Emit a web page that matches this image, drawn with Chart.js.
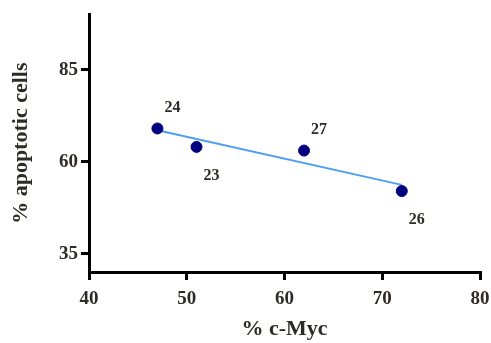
<!DOCTYPE html>
<html lang="en">
<head>
<meta charset="UTF-8">
<title>% apoptotic cells vs % c-Myc</title>
<script src="https://cdn.jsdelivr.net/npm/chart.js"></script>
<style>
    html, body { margin: 0; padding: 0; background: #fff; }
    #wrap { width: 491px; height: 343px; }
</style>
</head>
<body>
<div id="wrap"><canvas id="chart" width="491" height="343"></canvas></div>
<script>
    // values
    const cMyc = [47, 51, 62, 72];
    const apoptotic = [69, 64, 63, 52];
    const pointLabels = ['24', '23', '27', '26'];
    const labelSide = ['above', 'below', 'above', 'below'];
    const yTicks = [35, 60, 85];

    // least squares line through the points
    const n = cMyc.length;
    const mx = cMyc.reduce((a, b) => a + b, 0) / n;
    const my = apoptotic.reduce((a, b) => a + b, 0) / n;
    let sxy = 0, sxx = 0;
    for (let i = 0; i < n; i++) {
        sxy += (cMyc[i] - mx) * (apoptotic[i] - my);
        sxx += (cMyc[i] - mx) * (cMyc[i] - mx);
    }
    const slope = sxy / sxx;
    const xMin = Math.min(...cMyc), xMax = Math.max(...cMyc);
    const fitLine = [
        { x: xMin, y: my + slope * (xMin - mx) },
        { x: xMax, y: my + slope * (xMax - mx) }
    ];

    const FONT = "'Liberation Serif', 'DejaVu Serif', serif";
    const TEXT = '#2e2a26';

    const labelPlugin = {
        id: 'pointLabels',
        afterDatasetsDraw(chart) {
            const meta = chart.getDatasetMeta(0);
            const ctx = chart.ctx;
            ctx.save();
            ctx.font = 'bold 16px ' + FONT;
            ctx.fillStyle = TEXT;
            ctx.textAlign = 'center';
            ctx.textBaseline = 'middle';
            meta.data.forEach((pt, i) => {
                const dy = labelSide[i] === 'above' ? -21 : 29;
                ctx.fillText(pointLabels[i], pt.x + 15, pt.y + dy);
            });
            ctx.restore();
        }
    };

    new Chart(document.getElementById('chart'), {
        type: 'scatter',
        data: {
            datasets: [
                {
                    label: 'cells',
                    data: cMyc.map((x, i) => ({ x: x, y: apoptotic[i] })),
                    backgroundColor: '#000080',
                    borderColor: '#000080',
                    pointRadius: 5.5,
                    pointHoverRadius: 5.5
                },
                {
                    type: 'line',
                    label: 'fit',
                    data: fitLine,
                    borderColor: '#4f9ef5',
                    borderWidth: 2,
                    pointRadius: 0,
                    fill: false
                }
            ]
        },
        options: {
            responsive: false,
            animation: false,
            layout: { padding: { top: 13, right: 11 } },
            plugins: {
                legend: { display: false },
                tooltip: { enabled: false }
            },
            scales: {
                x: {
                    type: 'linear',
                    min: 40,
                    max: 80,
                    ticks: {
                        stepSize: 10,
                        color: TEXT,
                        font: { family: FONT, size: 19, weight: 'bold' },
                        padding: 8
                    },
                    grid: { display: true, drawOnChartArea: false, drawTicks: true, tickLength: 8, color: '#000', lineWidth: 3 },
                    border: { display: true, color: '#000', width: 3 },
                    title: {
                        display: true,
                        text: '% c-Myc',
                        color: TEXT,
                        font: { family: FONT, size: 22, weight: 'bold' },
                        padding: { top: 10, bottom: 0 }
                    },
                    afterFit(scale) {
                        scale.height = 71;
                        scale.paddingLeft = 0;
                        scale.paddingRight = 0;
                    }
                },
                y: {
                    type: 'linear',
                    min: 30,
                    max: 100,
                    afterBuildTicks(scale) { scale.ticks = yTicks.map(v => ({ value: v })); },
                    ticks: {
                        color: TEXT,
                        font: { family: FONT, size: 19, weight: 'bold' },
                        padding: 3
                    },
                    grid: { display: true, drawOnChartArea: false, drawTicks: true, tickLength: 8, color: '#000', lineWidth: 3 },
                    border: { display: true, color: '#000', width: 3 },
                    title: {
                        display: true,
                        text: '% apoptotic cells',
                        color: TEXT,
                        font: { family: FONT, size: 22, weight: 'bold' },
                        padding: { top: 8, bottom: 4 }
                    },
                    afterFit(scale) { scale.width = 89; }
                }
            }
        },
        plugins: [labelPlugin]
    });
</script>
</body>
</html>
